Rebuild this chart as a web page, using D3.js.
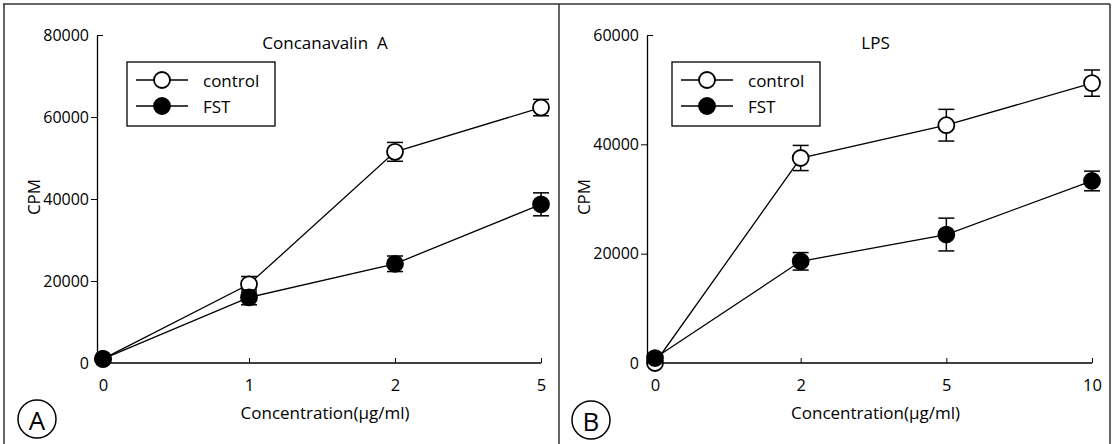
<!DOCTYPE html>
<html>
<head>
<meta charset="utf-8">
<script src="https://cdn.jsdelivr.net/npm/d3@7"></script>
<style>
  body { margin: 0; background: #fff; }
  svg { display: block; font-family: "Open Sans", Lato, sans-serif; }
</style>
</head>
<body>
<svg id="chart" width="1112" height="444"></svg>
<script>
// panel A: Concanavalin A
const concA = ["0", "1", "2", "5"];
const controlA = [1000, 19200, 51500, 62300];
const controlAErr = [0, 1900, 2300, 2000];
const fstA = [1000, 16000, 24200, 38700];
const fstAErr = [0, 1800, 1900, 2800];
const yTicksA = [0, 20000, 40000, 60000, 80000];

// panel B: LPS
const concB = ["0", "2", "5", "10"];
const controlB = [0, 37500, 43500, 51200];
const controlBErr = [0, 2300, 2900, 2400];
const fstB = [900, 18600, 23500, 33300];
const fstBErr = [0, 1600, 3000, 1800];
const yTicksB = [0, 20000, 40000, 60000];

const seriesNames = ["control", "FST"];

const panels = [
  { letter: "A", title: "Concanavalin\u00a0 A", conc: concA, yTicks: yTicksA,
    series: [{ v: controlA, e: controlAErr, open: true }, { v: fstA, e: fstAErr, open: false }],
    left: 97, x0: 103, x1: 541, legendX: 127, badge: [37, 419] },
  { letter: "B", title: "LPS", conc: concB, yTicks: yTicksB,
    series: [{ v: controlB, e: controlBErr, open: true }, { v: fstB, e: fstBErr, open: false }],
    left: 647, x0: 655, x1: 1092, legendX: 672, badge: [591, 420] },
];

const svg = d3.select("#chart");
const plotTop = 35, plotBottom = 363;
const r = 8;

// scanned frame lines
const frame = svg.append("g").attr("stroke", "#333").attr("stroke-width", 1.5);
frame.append("line").attr("x1", 3).attr("x2", 1110).attr("y1", 4).attr("y2", 4);
[4, 559, 1110].forEach((x) =>
  frame.append("line").attr("x1", x).attr("x2", x).attr("y1", 4).attr("y2", 444)
);

for (const p of panels) {
  const g = svg.append("g");
  const yMax = d3.max(p.yTicks);

  const x = d3.scalePoint().domain(p.conc).range([p.x0, p.x1]);
  const y = d3.scaleLinear().domain([0, yMax]).range([plotBottom, plotTop]);

  // y axis
  const yAxis = g.append("g")
    .attr("transform", `translate(${p.left},0)`)
    .call(d3.axisLeft(y).tickValues(p.yTicks).tickSize(6).tickSizeOuter(0).tickPadding(2).tickFormat(d3.format("d")))
    .attr("font-family", null).attr("font-size", 16);
  yAxis.select(".domain").attr("stroke-width", 1.3);
  yAxis.selectAll(".tick text").attr("fill", "#000");
  yAxis.selectAll(".tick")
    .filter((d) => d === yMax)
    .select("line").attr("x2", 6);
  yAxis.selectAll(".tick").filter((d) => d === 0).select("line").remove();

  // x axis
  g.append("line")
    .attr("x1", p.left).attr("x2", p.x1)
    .attr("y1", plotBottom).attr("y2", plotBottom)
    .attr("stroke", "#000").attr("stroke-width", 1.3);
  const xAxis = g.append("g")
    .attr("transform", `translate(0,${plotBottom})`)
    .call(d3.axisBottom(x).tickSize(-5).tickPadding(16))
    .attr("font-family", null).attr("font-size", 16.5);
  xAxis.select(".domain").remove();
  xAxis.selectAll(".tick text").attr("fill", "#000");

  // labels
  g.append("text")
    .attr("x", (p.left + p.x1) / 2 + 6).attr("y", 42)
    .attr("text-anchor", "middle").attr("dominant-baseline", "central")
    .attr("font-size", 17).text(p.title);
  g.append("text")
    .attr("x", (p.left + p.x1) / 2 + 6).attr("y", 412)
    .attr("text-anchor", "middle").attr("dominant-baseline", "central")
    .attr("font-size", 17).text("Concentration(\u00b5g/ml)");
  g.append("text")
    .attr("transform", `translate(${p.left - 64},197) rotate(-90)`)
    .attr("text-anchor", "middle").attr("dominant-baseline", "central")
    .attr("font-size", 17).text("CPM");

  // series
  for (const s of p.series) {
    const pts = s.v.map((v, i) => ({ c: p.conc[i], v, e: s.e[i] }));
    g.append("path")
      .datum(pts)
      .attr("fill", "none").attr("stroke", "#000").attr("stroke-width", 1.3)
      .attr("d", d3.line().x((d) => x(d.c)).y((d) => y(d.v)));

    const eb = g.append("g").attr("stroke", "#000").attr("stroke-width", 1.5);
    const withErr = pts.filter((d) => d.e > 0);
    eb.selectAll("line.v").data(withErr).join("line").attr("class", "v")
      .attr("x1", (d) => x(d.c)).attr("x2", (d) => x(d.c))
      .attr("y1", (d) => y(d.v - d.e)).attr("y2", (d) => y(d.v + d.e));
    eb.selectAll("line.t").data(withErr).join("line").attr("class", "t")
      .attr("x1", (d) => x(d.c) - 8).attr("x2", (d) => x(d.c) + 8)
      .attr("y1", (d) => y(d.v + d.e)).attr("y2", (d) => y(d.v + d.e));
    eb.selectAll("line.b").data(withErr).join("line").attr("class", "b")
      .attr("x1", (d) => x(d.c) - 8).attr("x2", (d) => x(d.c) + 8)
      .attr("y1", (d) => y(d.v - d.e)).attr("y2", (d) => y(d.v - d.e));

    g.append("g").selectAll("circle").data(pts).join("circle")
      .attr("cx", (d) => x(d.c)).attr("cy", (d) => y(d.v)).attr("r", r)
      .attr("fill", s.open ? "#fff" : "#000")
      .attr("stroke", "#000").attr("stroke-width", 1.8);
  }

  // legend
  const lg = g.append("g").attr("transform", `translate(${p.legendX},62)`);
  lg.append("rect").attr("width", 148).attr("height", 64)
    .attr("fill", "#fff").attr("stroke", "#000").attr("stroke-width", 1.3);
  seriesNames.forEach((name, i) => {
    const ly = 18 + i * 26;
    lg.append("line").attr("x1", 9).attr("x2", 61).attr("y1", ly).attr("y2", ly)
      .attr("stroke", "#000").attr("stroke-width", 1.3);
    lg.append("circle").attr("cx", 35).attr("cy", ly).attr("r", r)
      .attr("fill", p.series[i].open ? "#fff" : "#000")
      .attr("stroke", "#000").attr("stroke-width", 1.8);
    lg.append("text").attr("x", 76).attr("y", ly)
      .attr("dominant-baseline", "central").attr("font-size", 17).text(name);
  });

  // panel letter
  g.append("circle").attr("cx", p.badge[0]).attr("cy", p.badge[1]).attr("r", 19)
    .attr("fill", "none").attr("stroke", "#000").attr("stroke-width", 1.5);
  g.append("text").attr("x", p.badge[0]).attr("y", p.badge[1] + 1)
    .attr("text-anchor", "middle").attr("dominant-baseline", "central")
    .attr("font-size", 26).text(p.letter);
}
</script>
</body>
</html>
